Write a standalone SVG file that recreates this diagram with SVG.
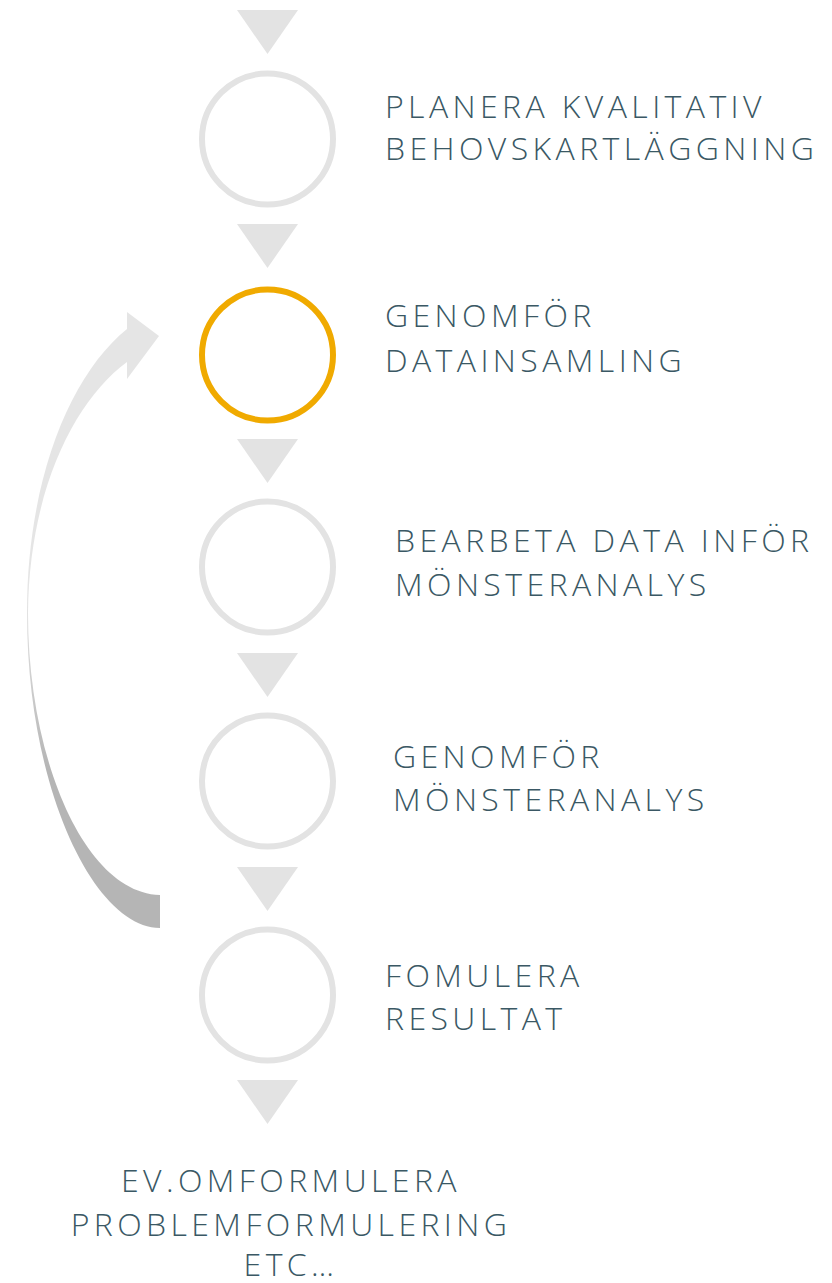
<svg xmlns="http://www.w3.org/2000/svg" width="832" height="1283" viewBox="0 0 832 1283">
<style>
.ring{fill:none;stroke:#e3e3e3;stroke-width:6}
.ring.active{stroke:#f0aa00}
.tri{fill:#e3e3e3}
.lbl{font-family:"Open Sans","Liberation Sans",sans-serif;font-weight:300;font-size:32px;letter-spacing:4.4px;fill:#3a5864}
</style>
<defs>
<linearGradient id="g" gradientUnits="userSpaceOnUse" x1="0" y1="600" x2="0" y2="770">
<stop offset="0" stop-color="#e5e5e5"/>
<stop offset="1" stop-color="#b5b5b5"/>
</linearGradient>
</defs>
<g id="connectors">
<polygon class="tri" points="237,10 298,10 267.5,54"/>
<polygon class="tri" points="237,224 298,224 267.5,268"/>
<polygon class="tri" points="237,439 298,439 267.5,483"/>
<polygon class="tri" points="237,653 298,653 267.5,697"/>
<polygon class="tri" points="237,867 298,867 267.5,911"/>
<polygon class="tri" points="237,1080 298,1080 267.5,1124"/>
<path id="loop" fill="url(#g)" d="M160,928 C95,928 27,790 27,613 C27,480 70,375 127,329 L127,312 L159,336 L127,379 L127,362 C75,400 29,490 28,613 C28,760 85,893 160,895 Z"/>
</g>
<g id="n1">
<circle class="ring" cx="267.5" cy="139" r="65.5"/>
<text class="lbl" x="385" y="118">PLANERA KVALITATIV</text>
<text class="lbl" x="385" y="160">BEHOVSKARTLÄGGNING</text>
</g>
<g id="n2">
<circle class="ring active" cx="267.5" cy="355" r="65.5"/>
<text class="lbl" x="385" y="327">GENOMFÖR</text>
<text class="lbl" x="385" y="372">DATAINSAMLING</text>
</g>
<g id="n3">
<circle class="ring" cx="267.5" cy="567" r="65.5"/>
<text class="lbl" x="395" y="552">BEARBETA DATA INFÖR</text>
<text class="lbl" x="395" y="596">MÖNSTERANALYS</text>
</g>
<g id="n4">
<circle class="ring" cx="267.5" cy="781" r="65.5"/>
<text class="lbl" x="393" y="768">GENOMFÖR</text>
<text class="lbl" x="393" y="811">MÖNSTERANALYS</text>
</g>
<g id="n5">
<circle class="ring" cx="267.5" cy="995" r="65.5"/>
<text class="lbl" x="385" y="987">FOMULERA</text>
<text class="lbl" x="385" y="1030">RESULTAT</text>
</g>
<g id="n6">
<text class="lbl" x="291" y="1192" text-anchor="middle">EV.OMFORMULERA</text>
<text class="lbl" x="291" y="1236" text-anchor="middle">PROBLEMFORMULERING</text>
<text class="lbl" x="291" y="1276" text-anchor="middle">ETC…</text>
</g>
</svg>
